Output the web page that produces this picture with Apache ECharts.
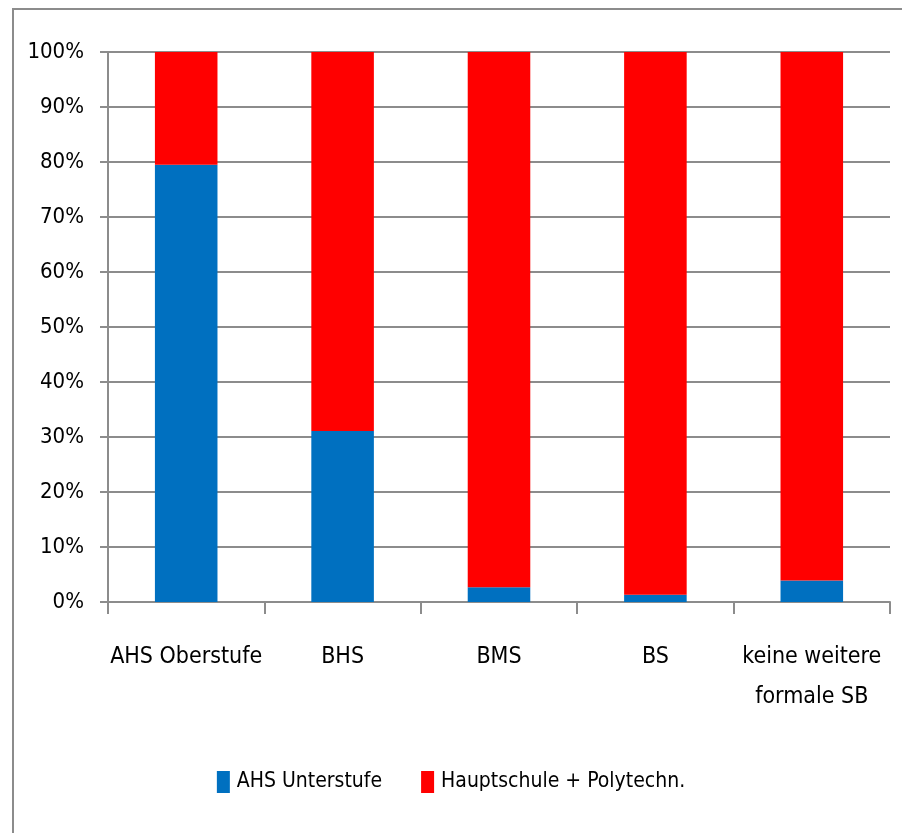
<!DOCTYPE html>
<html><head><meta charset="utf-8">
<script src="https://cdn.jsdelivr.net/npm/echarts@6/dist/echarts.min.js"></script>
<style>html,body{margin:0;padding:0;background:#fff}#c{width:902px;height:833px}</style>
</head><body><div id="c"></div>
<script>
const categories = ['AHS Oberstufe', 'BHS', 'BMS', 'BS', 'keine weitere\nformale SB'];
const ahsUnterstufe = [0.795, 0.311, 0.027, 0.013, 0.039];
const hauptschule = [0.205, 0.689, 0.973, 0.987, 0.961];
const seriesNames = ['AHS Unterstufe', 'Hauptschule + Polytechn.'];
const FONT = "'Liberation Sans Narrow', 'DejaVu Sans Condensed', sans-serif";
const chart = echarts.init(document.getElementById('c'));
chart.setOption({
  animation: false,
  backgroundColor: '#fff',
  textStyle: { fontFamily: FONT },
  graphic: [{ type: 'rect', shape: { x: 13, y: 9, width: 910, height: 840 }, style: { fill: 'none', stroke: '#8c8c8c', lineWidth: 2 }, z: -1 }],
  grid: { left: 108, right: 12, top: 52, bottom: 231 },
  legend: {
    bottom: 35, left: 'center', itemWidth: 13, itemHeight: 22, itemGap: 39,
    textStyle: { fontSize: 21, color: '#000', fontFamily: FONT, padding: [0, 0, 0, 2] },
    data: seriesNames, icon: 'rect'
  },
  xAxis: {
    type: 'category', data: categories,
    axisLine: { lineStyle: { color: '#8c8c8c', width: 2 } },
    axisTick: { show: true, length: 12, lineStyle: { color: '#8c8c8c', width: 2 } },
    axisLabel: { color: '#000', fontSize: 23, margin: 35, lineHeight: 40, fontFamily: FONT, interval: 0 }
  },
  yAxis: {
    type: 'value', min: 0, max: 1, interval: 0.1,
    axisLine: { show: true, lineStyle: { color: '#8c8c8c', width: 2 } },
    axisTick: { show: true, length: 8, lineStyle: { color: '#8c8c8c', width: 2 } },
    splitLine: { lineStyle: { color: '#8c8c8c', width: 2 } },
    axisLabel: { color: '#000', fontSize: 22, margin: 24, fontFamily: FONT, formatter: v => Math.round(v * 100) + '%' }
  },
  series: [
    { name: seriesNames[0], type: 'bar', stack: 's', data: ahsUnterstufe, barWidth: '40%', itemStyle: { color: '#0070c0' } },
    { name: seriesNames[1], type: 'bar', stack: 's', data: hauptschule, barWidth: '40%', itemStyle: { color: '#ff0000' } }
  ]
});
</script></body></html>
